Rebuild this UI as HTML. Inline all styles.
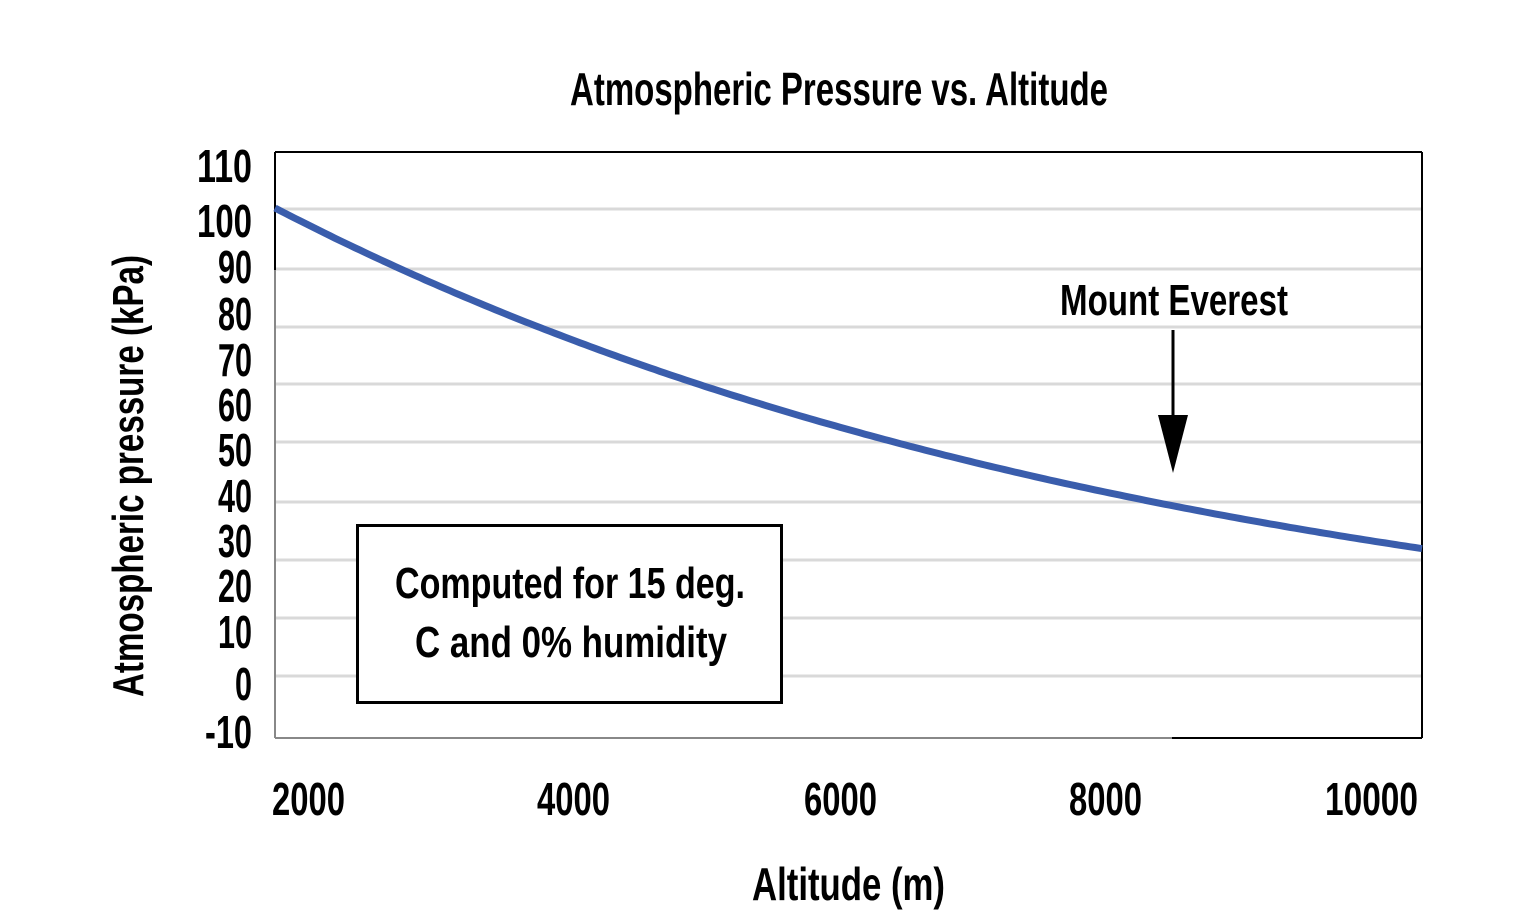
<!DOCTYPE html>
<html><head><meta charset="utf-8"><style>html,body{margin:0;padding:0;background:#fff}svg{display:block}text{font-family:"Liberation Sans Narrow","Liberation Sans",sans-serif;font-weight:bold;fill:#000}</style></head>
<body>
<svg width="1525" height="923" viewBox="0 0 1525 923" xmlns="http://www.w3.org/2000/svg">
<g stroke="#d9d9d9" stroke-width="3">
<line x1="275" x2="1422" y1="209" y2="209"/><line x1="275" x2="1422" y1="269" y2="269"/>
<line x1="275" x2="1422" y1="327" y2="327"/><line x1="275" x2="1422" y1="384" y2="384"/>
<line x1="275" x2="1422" y1="442" y2="442"/><line x1="275" x2="1422" y1="502" y2="502"/>
<line x1="275" x2="1422" y1="560" y2="560"/><line x1="275" x2="1422" y1="618" y2="618"/>
<line x1="275" x2="1422" y1="676" y2="676"/>
</g>
<line x1="275" y1="152" x2="1422" y2="152" stroke="#000" stroke-width="2"/>
<line x1="1422" y1="152" x2="1422" y2="738" stroke="#000" stroke-width="2"/>
<line x1="275" y1="152" x2="275" y2="270" stroke="#000" stroke-width="2"/>
<line x1="275" y1="270" x2="275" y2="738" stroke="#888" stroke-width="2"/>
<line x1="275" y1="738" x2="1172" y2="738" stroke="#888" stroke-width="2"/>
<line x1="1172" y1="738" x2="1422" y2="738" stroke="#000" stroke-width="2"/>
<path id="curve" fill="none" stroke="#3a5dac" stroke-width="7"/>
<script>
(function(){var d="";for(var x=275;x<=1422;x+=5){var y=686.4-478.4*Math.exp(-0.001085*(x-275));d+=(x==275?"M":"L")+x+" "+y.toFixed(1)+" ";}
d+="L1422 "+(686.4-478.4*Math.exp(-0.001085*1147)).toFixed(1);document.getElementById("curve").setAttribute("d",d);})();
</script>
<rect x="357.5" y="525.5" width="424" height="177" fill="#fff" stroke="#000" stroke-width="3"/>
<text x="395" y="598" font-size="44" textLength="350" lengthAdjust="spacingAndGlyphs">Computed for 15 deg.</text>
<text x="415" y="657" font-size="44" textLength="312" lengthAdjust="spacingAndGlyphs">C and 0% humidity</text>
<text x="1060" y="315" font-size="44" textLength="228" lengthAdjust="spacingAndGlyphs">Mount Everest</text>
<line x1="1173" y1="330" x2="1173" y2="418" stroke="#000" stroke-width="3"/>
<polygon points="1158,415 1188,415 1173,473" fill="#000"/>
<text x="570" y="105" font-size="46" textLength="538" lengthAdjust="spacingAndGlyphs">Atmospheric Pressure vs. Altitude</text>
<text x="752" y="900" font-size="46" textLength="193" lengthAdjust="spacingAndGlyphs">Altitude (m)</text>
<text transform="translate(143,697) rotate(-90)" font-size="44" textLength="442" lengthAdjust="spacingAndGlyphs">Atmospheric pressure (kPa)</text>
<g font-size="46">
<text x="197" y="182" textLength="55" lengthAdjust="spacingAndGlyphs">110</text>
<text x="197" y="237" textLength="55" lengthAdjust="spacingAndGlyphs">100</text>
<text x="218" y="283" textLength="34" lengthAdjust="spacingAndGlyphs">90</text>
<text x="218" y="330" textLength="34" lengthAdjust="spacingAndGlyphs">80</text>
<text x="218" y="376" textLength="34" lengthAdjust="spacingAndGlyphs">70</text>
<text x="218" y="421" textLength="34" lengthAdjust="spacingAndGlyphs">60</text>
<text x="218" y="466" textLength="34" lengthAdjust="spacingAndGlyphs">50</text>
<text x="218" y="512" textLength="34" lengthAdjust="spacingAndGlyphs">40</text>
<text x="218" y="557" textLength="34" lengthAdjust="spacingAndGlyphs">30</text>
<text x="218" y="602" textLength="34" lengthAdjust="spacingAndGlyphs">20</text>
<text x="218" y="648" textLength="34" lengthAdjust="spacingAndGlyphs">10</text>
<text x="235" y="700" textLength="17" lengthAdjust="spacingAndGlyphs">0</text>
<text x="205" y="748" textLength="47" lengthAdjust="spacingAndGlyphs">-10</text>
</g>
<g font-size="46">
<text x="272" y="815" textLength="73" lengthAdjust="spacingAndGlyphs">2000</text>
<text x="537" y="815" textLength="73" lengthAdjust="spacingAndGlyphs">4000</text>
<text x="804" y="815" textLength="73" lengthAdjust="spacingAndGlyphs">6000</text>
<text x="1069" y="815" textLength="73" lengthAdjust="spacingAndGlyphs">8000</text>
<text x="1325" y="815" textLength="93" lengthAdjust="spacingAndGlyphs">10000</text>
</g>
</svg>
</body></html>
